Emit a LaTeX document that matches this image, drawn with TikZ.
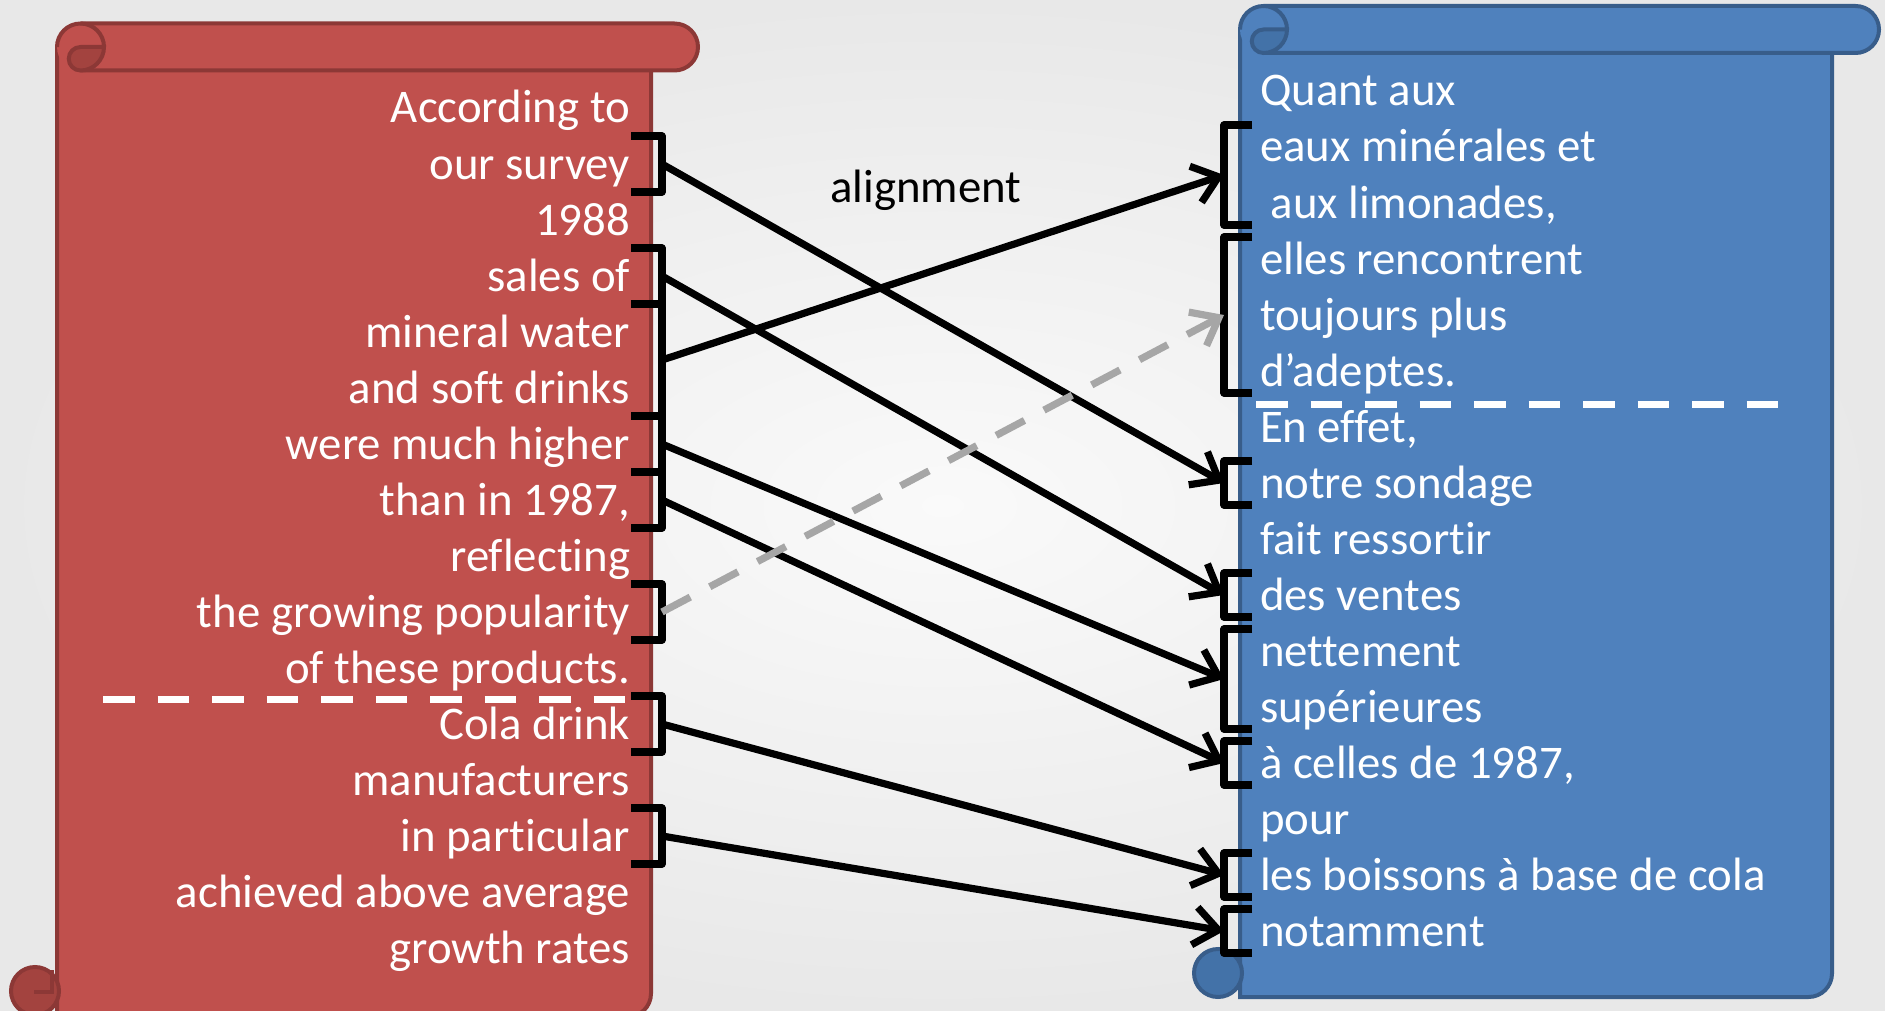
\documentclass[tikz,border=0pt]{standalone}
\usepackage{fontspec}
\setmainfont{Carlito}[Ligatures=NoCommon]
\usetikzlibrary{positioning, calc, chains, arrows.meta}

\definecolor{scrollred}{HTML}{C0504D}
\definecolor{scrollredline}{HTML}{8C3836}
\definecolor{scrollredcurl}{HTML}{A3433F}
\definecolor{scrollblue}{HTML}{4F81BD}
\definecolor{scrollblueline}{HTML}{385D8A}
\definecolor{scrollbluecurl}{HTML}{4372A8}
\definecolor{linkgray}{HTML}{A6A6A6}

\newcommand\scrollfont{\fontsize{23.4pt}{28pt}\selectfont}

\begin{document}
\begin{tikzpicture}[x=0.5pt, y=-0.5pt, >={Straight Barb[length=12pt,width=19pt]},
    txtline/.style={font=\scrollfont, inner sep=0pt, outer sep=0pt,
      text height=21.5pt, text depth=6.5pt, text width=280pt},
    en/.style={txtline, align=flush right, text=white},
    fr/.style={txtline, align=flush left, text=white},
    redroll/.style={draw=scrollredline, line width=2pt},
    blueroll/.style={draw=scrollblueline, line width=2pt},
    brk/.style={draw, line width=3.6pt, line join=round},
    link/.style={->, line width=3.6pt},
    weak/.style={link, draw=linkgray, dash pattern=on 16pt off 11pt},
    divider/.style={draw=white, line width=3.5pt, dash pattern=on 15.75pt off 11.5pt},
    node distance=0pt]

  \useasboundingbox (0,0) rectangle (1885,1011);
  \clip (0,0) rectangle (1885,1011);
  \shade[inner color=white!98!black, outer color=white!91!black] (0,0) rectangle (1885,1011);

  \filldraw[redroll, fill=scrollred] (57,47) -- (57,1017) [rounded corners=11.75pt] -- (651,1017) -- (651,47) [sharp corners] -- cycle;
  \fill[scrollred, rounded corners=11.75pt] (57,23.5) rectangle (698,70.5);
  \draw[redroll] (57,47) arc[start angle=180, end angle=270, radius=23.5] -- (674.5,23.5)
    arc[start angle=-90, end angle=90, radius=23.5] -- (80.5,70.5);
  \filldraw[redroll, fill=scrollredcurl] (80.5,47) -- (104,47) arc[start angle=0, end angle=90, radius=23.5]
    arc[start angle=90, end angle=270, radius=11.75] -- cycle;
  \draw[redroll] (80.5,23.5) arc[start angle=-90, end angle=0, radius=23.5];
  \filldraw[redroll, fill=scrollredcurl] (35,991) circle[radius=24];
  \draw[redroll] (52,970) -- (52,992) -- (34,992);

  \filldraw[blueroll, fill=scrollblue] (1240,29.5) -- (1240,997) [rounded corners=11.75pt] -- (1832,997) -- (1832,29.5) [sharp corners] -- cycle;
  \fill[scrollblue, rounded corners=11.75pt] (1240,6) rectangle (1879,53);
  \draw[blueroll] (1240,29.5) arc[start angle=180, end angle=270, radius=23.5] -- (1855.5,6)
    arc[start angle=-90, end angle=90, radius=23.5] -- (1263.5,53);
  \filldraw[blueroll, fill=scrollbluecurl] (1263.5,29.5) -- (1287,29.5) arc[start angle=0, end angle=90, radius=23.5]
    arc[start angle=90, end angle=270, radius=11.75] -- cycle;
  \draw[blueroll] (1263.5,6) arc[start angle=-90, end angle=0, radius=23.5];
  \filldraw[blueroll, fill=scrollbluecurl] (1218,973) circle[radius=24];

  \begin{scope}[start chain=going below]
    \node[en, on chain, anchor=north east] (en1) at (630,80) {According to};
    \node[en, on chain] (en2) {our survey};
    \node[en, on chain] (en3) {1988};
    \node[en, on chain] (en4) {sales of};
    \node[en, on chain] (en5) {mineral water};
    \node[en, on chain] (en6) {and soft drinks};
    \node[en, on chain] (en7) {were much higher};
    \node[en, on chain] (en8) {than in 1987,};
    \node[en, on chain] (en9) {reflecting};
    \node[en, on chain] (en10) {the growing popularity};
    \node[en, on chain] (en11) {of these products.};
    \node[en, on chain] (en12) {Cola drink};
    \node[en, on chain] (en13) {manufacturers};
    \node[en, on chain] (en14) {in particular};
    \node[en, on chain] (en15) {achieved above average};
    \node[en, on chain] (en16) {growth rates};
  \end{scope}

  \begin{scope}[start chain=going below]
    \node[fr, on chain, anchor=north west] (fr1) at (1260,63) {Quant aux};
    \node[fr, on chain] (fr2) {eaux minérales et};
    \node[fr, on chain] (fr3) {~aux limonades,};
    \node[fr, on chain] (fr4) {elles rencontrent};
    \node[fr, on chain] (fr5) {toujours plus};
    \node[fr, on chain] (fr6) {d’adeptes.};
    \node[fr, on chain] (fr7) {En effet,};
    \node[fr, on chain] (fr8) {notre sondage};
    \node[fr, on chain] (fr9) {fait ressortir};
    \node[fr, on chain] (fr10) {des ventes};
    \node[fr, on chain] (fr11) {nettement};
    \node[fr, on chain] (fr12) {supérieures};
    \node[fr, on chain] (fr13) {à celles de 1987,};
    \node[fr, on chain] (fr14) {pour};
    \node[fr, on chain] (fr15) {les boissons à base de cola};
    \node[fr, on chain] (fr16) {notamment};
  \end{scope}

  \node[font=\scrollfont] (lbl) at (926,190) {alignment};

  \draw[divider] ([xshift=16.5pt,yshift=-1.75pt]en11.south west) -- ([xshift=0.5pt,yshift=-1.75pt]en11.south east);
  \draw[divider] ([xshift=-2pt,yshift=-2.5pt]fr6.south west) -- ([xshift=-20.5pt,yshift=-2.5pt]fr6.south east);

  \draw[brk] ([xshift=0.5pt]en2.north east) -| coordinate[pos=.75] (e1) ([xshift=16pt]en2.south east) -- ([xshift=0.5pt]en2.south east);
  \draw[brk] ([xshift=0.5pt]en4.north east) -| coordinate[pos=.75] (e2) ([xshift=16pt]en4.south east) -- ([xshift=0.5pt]en4.south east);
  \draw[brk] ([xshift=0.5pt]en5.north east) -| coordinate[pos=.75] (e3) ([xshift=16pt]en6.south east) -- ([xshift=0.5pt]en6.south east);
  \draw[brk] ([xshift=0.5pt]en7.north east) -| coordinate[pos=.75] (e4) ([xshift=16pt]en7.south east) -- ([xshift=0.5pt]en7.south east);
  \draw[brk] ([xshift=0.5pt]en8.north east) -| coordinate[pos=.75] (e5) ([xshift=16pt]en8.south east) -- ([xshift=0.5pt]en8.south east);
  \draw[brk] ([xshift=0.5pt]en10.north east) -| coordinate[pos=.75] (e6) ([xshift=16pt]en10.south east) -- ([xshift=0.5pt]en10.south east);
  \draw[brk] ([xshift=0.5pt]en12.north east) -| coordinate[pos=.75] (e7) ([xshift=16pt]en12.south east) -- ([xshift=0.5pt]en12.south east);
  \draw[brk] ([xshift=0.5pt]en14.north east) -| coordinate[pos=.75] (e8) ([xshift=16pt]en14.south east) -- ([xshift=0.5pt]en14.south east);

  \draw[brk] ([xshift=-4pt,yshift=-3pt]fr2.north west) -| coordinate[pos=.75] (f1) ([xshift=-18pt,yshift=3pt]fr3.south west) -- ([xshift=-4pt,yshift=3pt]fr3.south west);
  \draw[brk] ([xshift=-4pt,yshift=-3pt]fr4.north west) -| coordinate[pos=.75] (f2) ([xshift=-18pt,yshift=3pt]fr6.south west) -- ([xshift=-4pt,yshift=3pt]fr6.south west);
  \draw[brk] ([xshift=-4pt,yshift=-3pt]fr8.north west) -| coordinate[pos=.75] (f3) ([xshift=-18pt,yshift=3pt]fr8.south west) -- ([xshift=-4pt,yshift=3pt]fr8.south west);
  \draw[brk] ([xshift=-4pt,yshift=-3pt]fr10.north west) -| coordinate[pos=.75] (f4) ([xshift=-18pt,yshift=3pt]fr10.south west) -- ([xshift=-4pt,yshift=3pt]fr10.south west);
  \draw[brk] ([xshift=-4pt,yshift=-3pt]fr11.north west) -| coordinate[pos=.75] (f5) ([xshift=-18pt,yshift=3pt]fr12.south west) -- ([xshift=-4pt,yshift=3pt]fr12.south west);
  \draw[brk] ([xshift=-4pt,yshift=-3pt]fr13.north west) -| coordinate[pos=.75] (f6) ([xshift=-18pt,yshift=3pt]fr13.south west) -- ([xshift=-4pt,yshift=3pt]fr13.south west);
  \draw[brk] ([xshift=-4pt,yshift=-3pt]fr15.north west) -| coordinate[pos=.75] (f7) ([xshift=-18pt,yshift=3pt]fr15.south west) -- ([xshift=-4pt,yshift=3pt]fr15.south west);
  \draw[brk] ([xshift=-4pt,yshift=-3pt]fr16.north west) -| coordinate[pos=.75] (f8) ([xshift=-18pt,yshift=3pt]fr16.south west) -- ([xshift=-4pt,yshift=3pt]fr16.south west);

  \draw[link] (e1) -- (f3);
  \draw[link] (e2) -- (f4);
  \draw[link] (e3) -- (f1);
  \draw[link] (e4) -- (f5);
  \draw[link] (e5) -- (f6);
  \draw[weak] (e6) -- (f2);
  \draw[link] (e7) -- (f7);
  \draw[link] (e8) -- (f8);
\end{tikzpicture}
\end{document}
